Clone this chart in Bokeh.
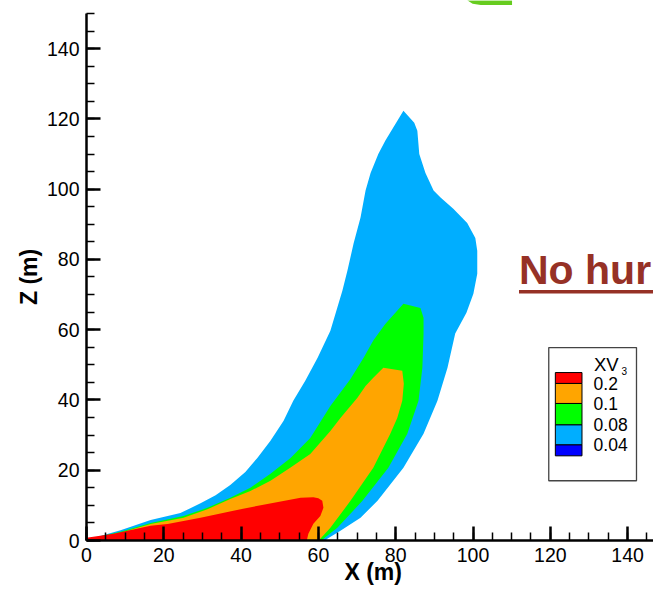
from bokeh.plotting import figure
from bokeh.models import Range1d, SingleIntervalTicker
from bokeh.core.properties import value
from bokeh.embed import file_html
from bokeh.resources import INLINE

# ---- data: contours of XV3 in the X-Z plane (metres) ----
levels = ["0.2", "0.1", "0.08", "0.04"]
band_colors = ["#FF0000", "#FFA500", "#00FF00", "#00AEFF", "#0000FF"]

# XV3 = 0.04 contour (outer, light blue fill)
c004_x = [0.0, 3.6, 8.8, 16.6, 24.3, 29.5, 33.4, 37.2, 41.1, 44.2, 47.6, 51.0, 53.5, 56.6,
          59.8, 63.1, 64.9, 66.2, 67.5, 69.1, 70.9, 72.2, 73.5, 75.5, 77.3, 82.0, 84.8, 85.6,
          86.1, 87.7, 89.8, 91.6, 94.9, 98.5, 100.6, 101.1, 101.1, 100.1, 98.3, 95.4, 93.4,
          90.8, 87.2, 82.0, 75.3, 70.9, 65.7, 62.3, 61.8]
c004_z = [0.0, 1.3, 2.9, 5.8, 7.8, 10.6, 12.9, 15.8, 19.5, 23.5, 28.4, 34.1, 39.8, 45.5,
          52.0, 59.7, 66.3, 71.1, 76.8, 84.5, 91.9, 99.6, 104.6, 110.0, 113.8, 122.3, 118.9,
          116.6, 110.0, 104.6, 99.6, 97.6, 94.4, 90.4, 86.1, 82.5, 75.9, 70.2, 64.8, 58.9,
          49.2, 39.8, 30.4, 20.7, 11.3, 6.5, 2.8, 0.5, 0.0]

# XV3 = 0.08 contour (green fill)
c008_x = [0.0, 3.6, 8.8, 16.6, 25.1, 31.3, 37.2, 42.4, 47.6, 52.8, 57.9, 63.1, 68.3, 71.7,
          74.2, 77.3, 82.0, 86.4, 87.2, 87.2, 86.9, 85.9, 83.0, 78.1, 71.4, 64.9, 61.3, 61.0]
c008_z = [0.0, 1.2, 2.5, 5.0, 7.0, 9.3, 12.2, 15.0, 19.0, 23.5, 29.2, 38.3, 46.0, 52.0,
          56.9, 61.6, 67.4, 66.2, 63.4, 58.8, 49.2, 39.8, 30.4, 20.7, 11.3, 3.6, 0.5, 0.0]

# XV3 = 0.1 contour (orange fill)
c010_x = [0.0, 3.6, 8.8, 16.6, 25.1, 31.3, 37.2, 42.4, 47.6, 52.8, 57.9, 63.1, 65.7, 70.1,
          72.2, 74.2, 76.8, 81.7, 82.1, 81.7, 80.4, 78.6, 74.2, 68.3, 63.1, 60.5, 60.0]
c010_z = [0.0, 1.1, 2.2, 4.7, 6.5, 8.9, 11.8, 14.1, 17.0, 20.8, 24.6, 31.2, 34.9, 40.6,
          44.0, 46.3, 49.2, 48.3, 44.6, 39.8, 34.9, 30.4, 20.7, 11.3, 3.6, 0.5, 0.0]

# XV3 = 0.2 contour (red fill)
c020_x = [0.0, 0.0, 7.0, 16.6, 21.0, 29.5, 38.0, 46.8, 55.4, 58.7, 60.0, 61.0, 61.3, 60.5,
          58.7, 57.4, 57.0]
c020_z = [0.0, 0.8, 1.9, 4.2, 4.7, 6.5, 8.5, 10.4, 12.2, 12.3, 12.0, 11.3, 9.3, 7.0,
          4.8, 1.9, 0.0]

FONT = "Liberation Sans"
NBSP = "\u00a0"

p = figure(width=653, height=590,
           x_range=Range1d(0, 146.7), y_range=Range1d(0, 153.7),
           output_backend="svg", toolbar_location=None,
           min_border_left=86, min_border_right=0, min_border_top=0, min_border_bottom=50)
p.outline_line_color = None
p.xgrid.visible = False
p.ygrid.visible = False
p.background_fill_color = "white"
p.border_fill_color = "white"

# non-breaking spaces only nudge the centred titles onto the 0-150 axis span
p.xaxis.axis_label = NBSP + "X (m)"
p.yaxis.axis_label = "Z (m)" + NBSP * 2

for ax, standoff, lab_standoff in ((p.xaxis[0], 7, -6), (p.yaxis[0], 7, 2)):
    ax.ticker = SingleIntervalTicker(interval=20, num_minor_ticks=4)
    ax.bounds = (0, 150)
    ax.axis_line_width = 2.5
    ax.axis_line_color = "black"
    ax.major_tick_in = 14
    ax.major_tick_out = 0
    ax.minor_tick_in = 8
    ax.minor_tick_out = 0
    ax.major_tick_line_width = 2.5
    ax.minor_tick_line_width = 1.5
    ax.major_tick_line_color = "black"
    ax.minor_tick_line_color = "black"
    ax.major_label_text_font = FONT
    ax.major_label_text_font_size = "19.5px"
    ax.major_label_text_color = "black"
    ax.major_label_standoff = standoff
    ax.axis_label_text_font = FONT
    ax.axis_label_text_font_style = "bold"
    ax.axis_label_text_font_size = "23px"
    ax.axis_label_text_color = "black"
    ax.axis_label_standoff = lab_standoff

# filled contour bands (outer to inner)
p.patch(c004_x, c004_z, fill_color=band_colors[3], line_color=None)
p.patch(c008_x, c008_z, fill_color=band_colors[2], line_color=None)
p.patch(c010_x, c010_z, fill_color=band_colors[1], line_color=None)
p.patch(c020_x, c020_z, fill_color=band_colors[0], line_color=None)

# contour legend box
p.quad(left=[119.6], right=[142.3], bottom=[17.0], top=[54.9],
       fill_color="white", line_color="#444444", line_width=1.3)
sw_edges = [47.8, 44.7, 39.0, 32.9, 27.2, 24.1]
p.quad(left=[121.3] * 5, right=[128.2] * 5,
       top=sw_edges[:-1], bottom=sw_edges[1:],
       fill_color=band_colors, line_color="black", line_width=1)
p.text(x=[131.2] * 4, y=sw_edges[1:5], text=levels,
       text_font=value(FONT), text_font_size=value("17.5px"),
       text_align="left", text_baseline="middle", text_color="black")
p.text(x=[131.3], y=[50.0], text=["XV"], text_font=value(FONT),
       text_font_size=value("18.5px"), text_align="left", text_baseline="middle",
       text_color="black")
p.text(x=[138.4], y=[48.2], text=["3"], text_font=value(FONT),
       text_font_size=value("10px"), text_align="left", text_baseline="middle",
       text_color="black")

# heading fragment on the right
p.text(x=[111.9], y=[77.1], text=["No hur"], text_font=value(FONT),
       text_font_style="bold", text_font_size=value("41px"), text_align="left",
       text_baseline="middle", text_color="#963126")
p.segment(x0=[111.9], y0=[70.8], x1=[150.0], y1=[70.8], line_width=3.3, line_color="#963126")

# cropped green fragment at the very top
p.patch([98.5, 99.9, 102.0, 110.1, 110.1], [153.8, 152.8, 152.4, 152.4, 153.8],
        fill_color="#66CC1F", line_color=None)

open("out.html", "w").write(file_html(p, INLINE))
